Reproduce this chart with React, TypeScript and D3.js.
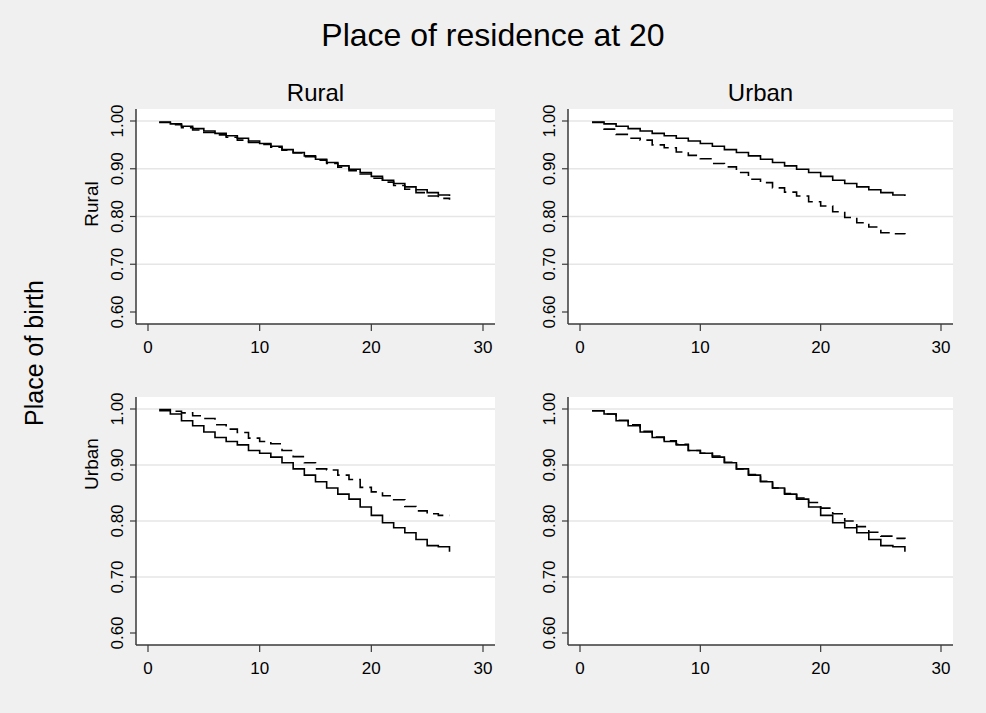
import { useEffect, useRef } from 'react'
import * as d3 from 'd3'

// Kaplan-Meier style survival steps (value on [t, t+1))
const TIME = [1, 2, 3, 4, 5, 6, 7, 8, 9, 10, 11, 12, 13, 14, 15, 16, 17, 18, 19, 20, 21, 22, 23, 24, 25, 26, 27]

// solid line: non-movers, same in both panels of a row
const RURAL_BORN_SOLID = [
  0.998, 0.994, 0.989, 0.984, 0.979, 0.974, 0.969, 0.964, 0.958, 0.953, 0.947, 0.940, 0.934, 0.927,
  0.920, 0.913, 0.906, 0.899, 0.892, 0.884, 0.876, 0.869, 0.862, 0.856, 0.850, 0.845, 0.843,
]
const URBAN_BORN_SOLID = [
  0.997, 0.991, 0.979, 0.970, 0.959, 0.949, 0.942, 0.936, 0.926, 0.921, 0.914, 0.904, 0.893, 0.882,
  0.870, 0.859, 0.848, 0.839, 0.825, 0.810, 0.797, 0.788, 0.779, 0.767, 0.756, 0.754, 0.745,
]

// dashed lines, one per panel
const DASH_RURAL_RURAL = [
  0.997, 0.992, 0.986, 0.981, 0.976, 0.971, 0.966, 0.960, 0.955, 0.951, 0.945, 0.939, 0.933, 0.925,
  0.918, 0.911, 0.903, 0.896, 0.889, 0.880, 0.872, 0.865, 0.857, 0.850, 0.843, 0.838, 0.835,
]
const DASH_RURAL_URBAN = [
  0.997, 0.983, 0.972, 0.964, 0.960, 0.950, 0.944, 0.935, 0.928, 0.921, 0.911, 0.904, 0.892, 0.878,
  0.871, 0.860, 0.851, 0.843, 0.831, 0.822, 0.810, 0.798, 0.787, 0.778, 0.766, 0.764, 0.763,
]
const DASH_URBAN_RURAL = [
  0.999, 0.996, 0.993, 0.988, 0.983, 0.972, 0.964, 0.958, 0.948, 0.942, 0.938, 0.926, 0.915, 0.904,
  0.893, 0.891, 0.882, 0.874, 0.860, 0.852, 0.845, 0.838, 0.826, 0.818, 0.813, 0.810, 0.810,
]
const DASH_URBAN_URBAN = [
  0.997, 0.991, 0.980, 0.972, 0.960, 0.950, 0.943, 0.937, 0.926, 0.921, 0.916, 0.905, 0.893, 0.883,
  0.871, 0.859, 0.849, 0.841, 0.833, 0.823, 0.813, 0.800, 0.790, 0.780, 0.773, 0.769, 0.768,
]

const COL_LABELS = ['Rural', 'Urban']
const ROW_LABELS = ['Rural', 'Urban']
const X_TICKS = [0, 10, 20, 30]
const Y_TICKS = [0.6, 0.7, 0.8, 0.9, 1.0]

const PANELS = [
  { row: 0, col: 0, solid: RURAL_BORN_SOLID, dashed: DASH_RURAL_RURAL },
  { row: 0, col: 1, solid: RURAL_BORN_SOLID, dashed: DASH_RURAL_URBAN },
  { row: 1, col: 0, solid: URBAN_BORN_SOLID, dashed: DASH_URBAN_RURAL },
  { row: 1, col: 1, solid: URBAN_BORN_SOLID, dashed: DASH_URBAN_URBAN },
]

const W = 986
const H = 713
const FONT = '"Liberation Sans", Arial, Helvetica, sans-serif'
// plot regions (white boxes) per column / row
const COLS = [{ x0: 136, x1: 495 }, { x0: 568, x1: 953 }]
const ROWS = [{ y0: 109, y1: 324, labelY: 204 }, { y0: 397, y1: 645, labelY: 464 }]
const PAD = 12
const AXIS = '#3a3a3a'

export default function App() {
  const svgRef = useRef<SVGSVGElement>(null)

  useEffect(() => {
    if (!svgRef.current) return
    const svg = d3.select(svgRef.current)
    svg.selectAll('*').remove()

    svg.append('rect').attr('width', W).attr('height', H).attr('fill', '#f0f0f0')

    // overall title
    svg.append('text')
      .attr('x', 493)
      .attr('y', 46)
      .attr('text-anchor', 'middle')
      .attr('font-family', FONT)
      .attr('font-size', 32)
      .attr('fill', '#000')
      .text('Place of residence at 20')

    // y super-title
    svg.append('text')
      .attr('transform', 'translate(43,353) rotate(-90)')
      .attr('text-anchor', 'middle')
      .attr('font-family', FONT)
      .attr('font-size', 25)
      .attr('fill', '#000')
      .text('Place of birth')

    COLS.forEach((c, i) => {
      svg.append('text')
        .attr('x', (c.x0 + c.x1) / 2)
        .attr('y', 101)
        .attr('text-anchor', 'middle')
        .attr('font-family', FONT)
        .attr('font-size', 24)
        .attr('fill', '#000')
        .text(COL_LABELS[i])
    })

    ROWS.forEach((r, i) => {
      svg.append('text')
        .attr('transform', `translate(98,${r.labelY}) rotate(-90)`)
        .attr('text-anchor', 'middle')
        .attr('font-family', FONT)
        .attr('font-size', 19)
        .attr('fill', '#000')
        .text(ROW_LABELS[i])
    })

    PANELS.forEach((p) => {
      const c = COLS[p.col]
      const r = ROWS[p.row]
      const x = d3.scaleLinear().domain([0, 30]).range([c.x0 + PAD, c.x1 - PAD])
      const y = d3.scaleLinear().domain([0.6, 1.0]).range([r.y1 - PAD, r.y0 + PAD])
      const g = svg.append('g')

      g.append('rect')
        .attr('x', c.x0)
        .attr('y', r.y0)
        .attr('width', c.x1 - c.x0)
        .attr('height', r.y1 - r.y0)
        .attr('fill', '#fff')

      // gridlines (none at the bottom tick)
      g.selectAll('line.grid')
        .data(Y_TICKS.filter((t) => t > 0.65))
        .join('line')
        .attr('x1', c.x0)
        .attr('x2', c.x1)
        .attr('y1', (d) => y(d))
        .attr('y2', (d) => y(d))
        .attr('stroke', '#e6e6e6')
        .attr('stroke-width', 1.5)

      const line = d3.line<number>()
        .x((_, i) => x(TIME[i]))
        .y((d) => y(d))
        .curve(d3.curveStepAfter)

      g.append('path')
        .attr('d', line(p.dashed) ?? '')
        .attr('fill', 'none')
        .attr('stroke', '#000')
        .attr('stroke-width', 1.6)
        .attr('stroke-dasharray', '12 6')

      g.append('path')
        .attr('d', line(p.solid) ?? '')
        .attr('fill', 'none')
        .attr('stroke', '#000')
        .attr('stroke-width', 1.6)

      // axes
      g.append('line')
        .attr('x1', c.x0).attr('x2', c.x0)
        .attr('y1', r.y0).attr('y2', r.y1)
        .attr('stroke', AXIS).attr('stroke-width', 1.5)
      g.append('line')
        .attr('x1', c.x0).attr('x2', c.x1)
        .attr('y1', r.y1).attr('y2', r.y1)
        .attr('stroke', AXIS).attr('stroke-width', 1.5)

      g.selectAll('line.ytick')
        .data(Y_TICKS)
        .join('line')
        .attr('x1', c.x0 - 6)
        .attr('x2', c.x0)
        .attr('y1', (d) => y(d))
        .attr('y2', (d) => y(d))
        .attr('stroke', AXIS)
        .attr('stroke-width', 1.2)

      g.selectAll('text.ytick')
        .data(Y_TICKS)
        .join('text')
        .attr('transform', (d) => `translate(${c.x0 - 13},${y(d)}) rotate(-90)`)
        .attr('text-anchor', 'middle')
        .attr('font-family', FONT)
        .attr('font-size', 17)
        .attr('fill', '#000')
        .text((d) => d3.format('.2f')(d))

      g.selectAll('line.xtick')
        .data(X_TICKS)
        .join('line')
        .attr('x1', (d) => x(d))
        .attr('x2', (d) => x(d))
        .attr('y1', r.y1)
        .attr('y2', r.y1 + 7)
        .attr('stroke', AXIS)
        .attr('stroke-width', 1.2)

      g.selectAll('text.xtick')
        .data(X_TICKS)
        .join('text')
        .attr('x', (d) => x(d))
        .attr('y', r.y1 + 29)
        .attr('text-anchor', 'middle')
        .attr('font-family', FONT)
        .attr('font-size', 17)
        .attr('fill', '#000')
        .text((d) => String(d))
    })
  }, [])

  return (
    <div style={{ position: 'absolute', left: 0, top: 0 }}>
      <svg ref={svgRef} width={W} height={H} style={{ display: 'block' }} />
    </div>
  )
}
